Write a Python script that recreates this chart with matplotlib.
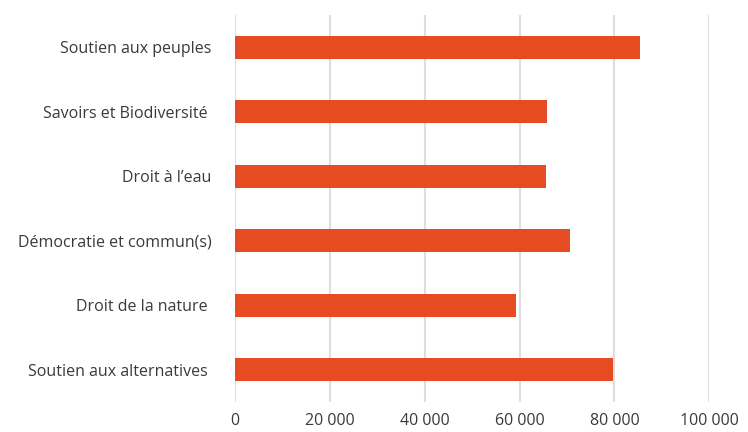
import matplotlib
matplotlib.use("Agg")
import matplotlib.pyplot as plt
from matplotlib.ticker import FuncFormatter

categories = ["Soutien aux peuples", "Savoirs et Biodiversité ", "Droit à l\u2019eau",
              "Démocratie et commun(s)", "Droit de la nature ", "Soutien aux alternatives "]
values = [85300, 65700, 65500, 70600, 59200, 79600]
xticks = [0, 20000, 40000, 60000, 80000, 100000]

plt.rcParams['font.family'] = ['Open Sans', 'DejaVu Sans']
fig = plt.figure(figsize=(7.48, 4.32), dpi=100)
ax = fig.add_axes([235/748, 1-402/432, (709.3-235)/748, (402-15)/432])

y = list(range(len(categories)))[::-1]
ax.barh(y, values, height=0.35, color="#E64B22", zorder=3)
ax.set_ylim(-0.5, len(categories)-0.5)
ax.set_xlim(0, 100000)
ax.set_yticks(y)
ax.set_yticklabels(categories)
ax.set_xticks(xticks)
ax.xaxis.set_major_formatter(FuncFormatter(lambda v, p: f"{int(v):,}".replace(",", " ")))
ax.grid(axis='x', color="#DEDEDE", linewidth=1.5, zorder=0)
ax.set_axisbelow(True)
for s in ax.spines.values():
    s.set_visible(False)
ax.tick_params(axis='both', length=0, labelsize=11.5, colors="#3A3A3A")
ax.tick_params(axis='y', pad=17)
ax.tick_params(axis='x', pad=8)
fig.savefig("out.png", dpi=100)
